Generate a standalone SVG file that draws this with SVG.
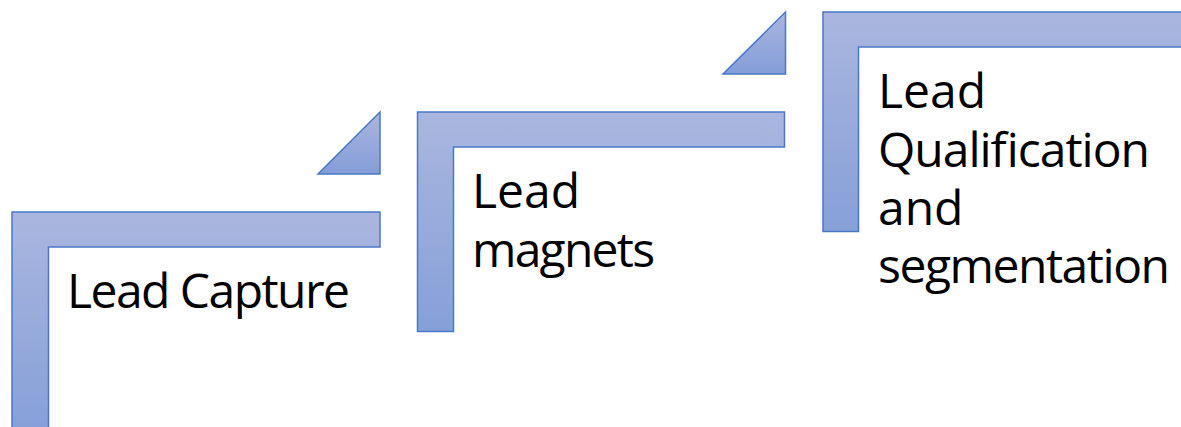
<svg xmlns="http://www.w3.org/2000/svg" width="1181" height="427" viewBox="0 0 1181 427">
<style>
.shape{stroke:#4a78c8;stroke-width:1.5;fill:url(#g)}
.tri{stroke:#4a78c8;stroke-width:1.5;fill:url(#gt)}
.lbl{font-family:"Open Sans","Liberation Sans",sans-serif;font-size:48px;fill:#000}
</style>
<defs>
<linearGradient id="g" x1="0" y1="0" x2="0" y2="1">
<stop offset="0" stop-color="#aab6df"/>
<stop offset="1" stop-color="#86a0d8"/>
</linearGradient>
<linearGradient id="gt" x1="0" y1="0" x2="0" y2="1">
<stop offset="0" stop-color="#aab6df"/>
<stop offset="1" stop-color="#849dd8"/>
</linearGradient>
</defs>
<rect width="1181" height="427" fill="#fff"/>
<g id="step1">
<path class="shape" d="M12,212 H380 V247 H48.5 V432 H12 Z"/>
<text class="lbl" x="67" y="308" textLength="283">Lead Capture</text>
</g>
<g id="arrow1">
<path class="tri" d="M380,112 V174 H318 Z"/>
</g>
<g id="step2">
<path class="shape" d="M417.5,112 H784.5 V147 H453.5 V331.5 H417.5 Z"/>
<text class="lbl" x="472" y="208">Lead</text>
<text class="lbl" x="472" y="267" textLength="183">magnets</text>
</g>
<g id="arrow2">
<path class="tri" d="M785.5,12 V74 H723 Z"/>
</g>
<g id="step3">
<path class="shape" d="M823,12 H1190 V47 H858.5 V231.5 H823 Z"/>
<text class="lbl" x="878" y="108">Lead</text>
<text class="lbl" x="878" y="167" textLength="272">Qualification</text>
<text class="lbl" x="878" y="225">and</text>
<text class="lbl" x="878" y="283" textLength="292">segmentation</text>
</g>
<g id="connectors"></g>
</svg>
